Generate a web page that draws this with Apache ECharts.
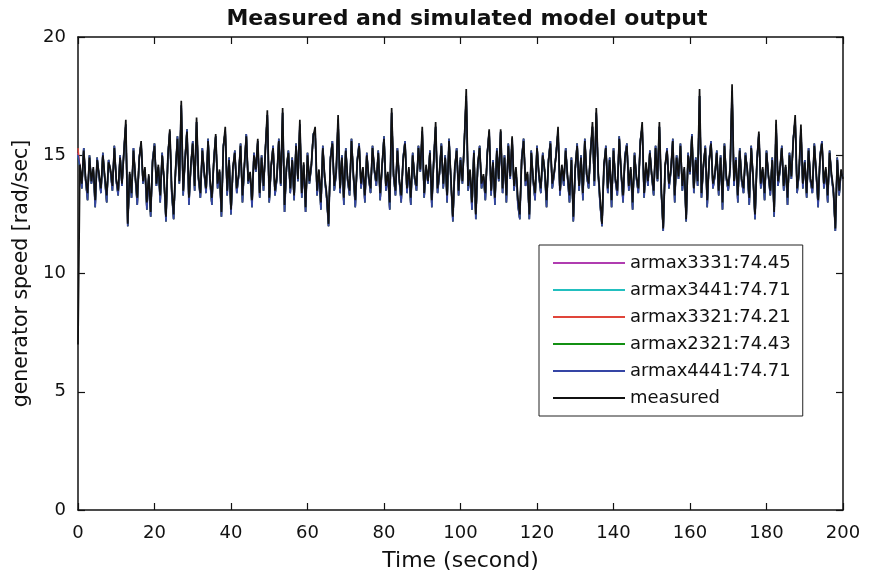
<!DOCTYPE html>
<html>
<head>
<meta charset="utf-8">
<script src="https://cdn.jsdelivr.net/npm/echarts@6/dist/echarts.min.js"></script>
<style>html,body{margin:0;padding:0;background:#fff}#c{width:869px;height:579px}</style>
</head>
<body>
<div id="c"></div>
<script>
const dt = 0.5;
const xTicks = {min: 0, max: 200, interval: 20};
const yTicks = {min: 0, max: 20, interval: 5};
const seriesNames = ['armax3331:74.45', 'armax3441:74.71', 'armax3321:74.21', 'armax2321:74.43', 'armax4441:74.71', 'measured'];
const modelStart = [15.1, 15.0, 15.3, 14.9];

const measured = [
7.0,14.6,13.8,15.2,14.0,13.4,14.9,13.9,14.5,13.1,14.8,14.2,13.6,15.0,14.1,13.3,14.7,14.4,13.7,15.3,
14.0,13.5,14.9,13.8,15.1,16.5,12.1,14.3,13.4,15.2,14.1,13.2,14.8,15.6,13.9,14.5,13.0,14.2,12.6,14.7,
15.4,13.8,14.6,13.3,15.0,14.0,12.4,14.9,16.1,13.6,12.5,14.4,15.7,13.9,17.3,13.5,14.8,16.0,13.2,14.6,
15.5,13.7,16.6,14.1,13.4,15.2,14.3,13.6,15.6,14.0,13.2,14.7,15.9,13.8,14.4,12.6,15.3,16.2,13.5,14.8,
12.7,14.5,15.1,13.6,14.2,15.4,13.3,14.6,15.8,13.9,14.3,13.1,15.0,14.4,15.7,13.4,14.9,13.7,15.2,16.9,
13.2,14.6,15.3,13.5,14.1,15.6,13.8,17.0,12.9,14.5,15.1,13.6,14.8,13.3,15.4,14.0,16.5,13.4,14.7,12.8,
15.0,13.9,14.6,15.8,16.2,13.5,14.4,13.0,15.3,14.1,13.4,12.1,14.8,15.5,13.7,14.3,16.7,13.6,14.9,13.2,
15.2,14.0,13.5,15.6,14.2,13.1,14.7,15.4,13.8,14.5,13.3,15.0,14.1,13.6,15.3,14.4,13.9,15.1,13.4,14.6,
15.7,13.7,14.3,13.0,17.0,14.2,13.5,15.2,14.0,13.3,14.8,15.5,13.6,14.5,13.2,15.0,14.1,13.7,15.3,14.4,
16.2,13.4,14.6,13.9,15.1,13.1,14.7,16.4,13.6,14.3,15.4,13.8,14.9,13.3,15.6,14.0,12.4,14.5,15.2,13.5,
14.8,13.9,15.5,17.8,13.7,14.4,13.0,15.1,12.5,14.6,15.3,13.8,14.2,13.4,15.0,16.1,13.5,14.7,13.2,15.2,
14.0,16.1,13.6,14.9,13.3,15.4,14.1,15.8,13.7,14.5,13.2,12.5,14.8,15.6,13.9,14.3,12.5,15.1,14.0,13.4,
15.3,14.2,13.6,15.0,14.4,13.1,14.7,15.5,13.8,14.3,15.0,16.2,13.5,14.6,13.9,15.2,14.1,13.3,14.8,12.4,
14.5,15.4,13.7,14.9,13.4,15.6,14.2,13.8,15.1,16.4,13.9,17.0,14.3,13.2,12.1,14.6,15.3,13.6,14.8,13.1,
15.2,14.0,13.5,15.7,14.3,13.3,14.9,15.4,13.7,14.5,13.0,15.0,14.1,13.6,15.5,16.4,13.4,14.7,13.9,15.1,
14.2,13.5,15.3,14.0,16.4,13.6,11.9,14.6,15.2,13.8,14.4,15.6,13.3,14.9,14.1,15.4,13.7,14.5,12.3,15.0,
14.3,15.8,13.6,14.8,13.9,17.8,13.4,14.6,15.3,13.1,14.7,15.5,13.8,14.2,15.1,13.5,14.9,13.0,15.4,14.1,
13.7,14.5,18.0,13.9,14.8,13.3,15.2,14.0,13.6,15.0,14.4,13.2,15.3,14.1,12.5,14.7,16.0,13.8,14.5,13.4,
15.1,14.2,13.5,14.8,12.6,16.5,13.9,14.4,15.3,13.7,14.6,13.2,15.0,14.1,15.6,16.7,13.6,14.3,16.3,13.8,
14.7,13.4,15.2,14.0,13.6,15.4,14.3,13.1,14.9,15.5,13.8,14.5,13.3,15.1,14.2,13.6,11.9,14.8,13.5,14.4,14.0
];

const sim4441 = [
15.0,14.5,13.6,15.3,13.9,13.1,15.0,13.8,14.4,12.8,14.9,14.1,13.4,15.1,14.0,13.0,14.8,14.3,13.5,15.4,
13.9,13.3,15.0,13.7,15.2,16.3,12.0,14.2,13.2,15.3,14.0,12.9,14.9,15.5,13.8,14.4,12.7,14.1,12.4,14.8,
15.5,13.7,14.5,13.0,15.1,13.9,12.2,15.0,16.0,13.4,12.3,14.3,15.8,13.8,17.1,13.3,14.9,16.1,12.9,14.5,
15.6,13.5,16.4,14.0,13.2,15.3,14.2,13.4,15.7,13.9,12.9,14.8,15.8,13.6,14.3,12.4,15.4,16.0,13.3,14.9,
12.5,14.4,15.2,13.4,14.1,15.5,13.0,14.5,15.9,13.8,14.2,12.8,15.1,14.3,15.6,13.2,15.0,13.5,15.3,16.7,
13.0,14.5,15.4,13.3,14.0,15.7,13.7,16.8,12.6,14.4,15.2,13.4,14.9,13.1,15.5,13.9,16.3,13.2,14.6,12.6,
15.1,13.8,14.5,15.9,16.0,13.3,14.3,12.7,15.4,14.0,13.2,12.0,14.9,15.6,13.5,14.2,16.5,13.4,15.0,12.9,
15.3,13.9,13.3,15.7,14.1,12.8,14.8,15.5,13.6,14.4,13.0,15.1,14.0,13.4,15.4,14.3,13.7,15.2,13.1,14.5,
15.8,13.5,14.2,12.7,16.8,14.1,13.3,15.3,13.9,13.0,14.9,15.6,13.4,14.4,12.9,15.1,14.0,13.5,15.4,14.3,
16.0,13.2,14.5,13.8,15.2,12.8,14.8,16.2,13.4,14.2,15.5,13.6,15.0,13.0,15.7,13.9,12.2,14.4,15.3,13.3,
14.9,13.8,15.6,17.5,13.5,14.3,12.7,15.2,12.3,14.5,15.4,13.6,14.1,13.1,15.1,16.0,13.3,14.8,12.9,15.3,
13.9,16.0,13.4,15.0,13.0,15.5,14.0,15.7,13.5,14.4,12.9,12.3,14.9,15.7,13.7,14.2,12.3,15.2,13.9,13.1,
15.4,14.1,13.4,15.1,14.3,12.8,14.8,15.6,13.6,14.2,15.1,16.0,13.3,14.5,13.7,15.3,14.0,13.0,14.9,12.2,
14.4,15.5,13.5,15.0,13.1,15.7,14.1,13.6,15.2,16.2,13.7,16.8,14.2,12.9,12.0,14.5,15.4,13.4,14.9,12.8,
15.3,13.9,13.3,15.8,14.2,13.0,15.0,15.5,13.5,14.4,12.7,15.1,14.0,13.4,15.6,16.2,13.2,14.6,13.7,15.2,
14.1,13.3,15.4,13.9,16.2,13.4,11.8,14.5,15.3,13.6,14.3,15.7,13.0,15.0,14.0,15.5,13.5,14.4,12.2,15.1,
14.2,15.9,13.4,14.9,13.7,17.5,13.2,14.5,15.4,12.8,14.8,15.6,13.6,14.1,15.2,13.3,15.0,12.7,15.5,14.0,
13.5,14.4,17.7,13.7,14.9,13.0,15.3,13.9,13.4,15.1,14.3,12.9,15.4,14.0,12.3,14.8,15.9,13.6,14.4,13.1,
15.2,14.1,13.3,14.9,12.4,16.3,13.7,14.3,15.4,13.5,14.5,12.9,15.1,14.0,15.7,16.5,13.4,14.2,16.1,13.6,
14.8,13.2,15.3,13.9,13.4,15.5,14.2,12.8,15.0,15.6,13.6,14.4,13.0,15.2,14.1,13.4,11.8,14.9,13.3,14.3,14.1
];

const colors = ['#b03cb0', '#22bfbf', '#e0453a', '#139013', '#3545a5', '#111111'];
const widths = [1.4, 1.4, 1.4, 1.4, 1.7, 1.7];

function pairs(vals) { return vals.map((v, i) => [i * dt, v]); }

const modelData = [
  [modelStart[0]].concat(sim4441.slice(1)),
  [modelStart[1]].concat(sim4441.slice(1)),
  [modelStart[2]].concat(sim4441.slice(1)),
  [modelStart[3]].concat(sim4441.slice(1)),
  sim4441,
  measured
];

const FONT = 'DejaVu Sans';
const chart = echarts.init(document.getElementById('c'), null, {renderer: 'canvas'});
const axisCommon = {
  axisLine: {show: true, onZero: false, lineStyle: {color: '#111', width: 1.5}},
  axisTick: {show: true, inside: true, length: 7, lineStyle: {color: '#111', width: 1.2}},
  splitLine: {show: false}
};
chart.setOption({
  animation: false,
  backgroundColor: '#fff',
  title: {
    text: 'Measured and simulated model output',
    left: 462, top: 3, textAlign: 'center',
    textStyle: {fontFamily: FONT, fontWeight: 'bold', fontSize: 22, color: '#111'}
  },
  grid: {left: 78, right: 26, top: 37, bottom: 69},
  legend: {
    orient: 'vertical', left: 539, top: 245,
    padding: [9, 12, 9, 14],
    icon: 'rect',
    itemWidth: 72, itemHeight: 2, itemGap: 9,
    borderColor: '#222', borderWidth: 1, backgroundColor: '#fff',
    textStyle: {fontFamily: FONT, fontSize: 18, color: '#111', lineHeight: 18},
    data: seriesNames
  },
  xAxis: [
    Object.assign({type: 'value', position: 'bottom', min: xTicks.min, max: xTicks.max, interval: xTicks.interval,
      name: 'Time (second)', nameLocation: 'middle', nameGap: 40,
      nameTextStyle: {fontFamily: FONT, fontSize: 22, color: '#111'},
      axisLabel: {fontFamily: FONT, fontSize: 18, color: '#111', margin: 14}}, axisCommon),
    Object.assign({type: 'value', position: 'top', min: xTicks.min, max: xTicks.max, interval: xTicks.interval,
      axisLabel: {show: false}}, axisCommon)
  ],
  yAxis: [
    Object.assign({type: 'value', position: 'left', min: yTicks.min, max: yTicks.max, interval: yTicks.interval,
      name: 'generator speed [rad/sec]', nameLocation: 'middle', nameGap: 44,
      nameTextStyle: {fontFamily: FONT, fontSize: 20.5, color: '#111'},
      axisLabel: {fontFamily: FONT, fontSize: 18, color: '#111', margin: 12}}, axisCommon),
    Object.assign({type: 'value', position: 'right', min: yTicks.min, max: yTicks.max, interval: yTicks.interval,
      axisLabel: {show: false}}, axisCommon)
  ],
  series: seriesNames.map((name, k) => ({
    name: name, type: 'line', xAxisIndex: 0, yAxisIndex: 0,
    data: pairs(modelData[k]), symbol: 'none', showSymbol: false,
    lineStyle: {color: colors[k], width: widths[k]}, itemStyle: {color: colors[k]},
    z: 2 + k
  }))
});
</script>
</body>
</html>
